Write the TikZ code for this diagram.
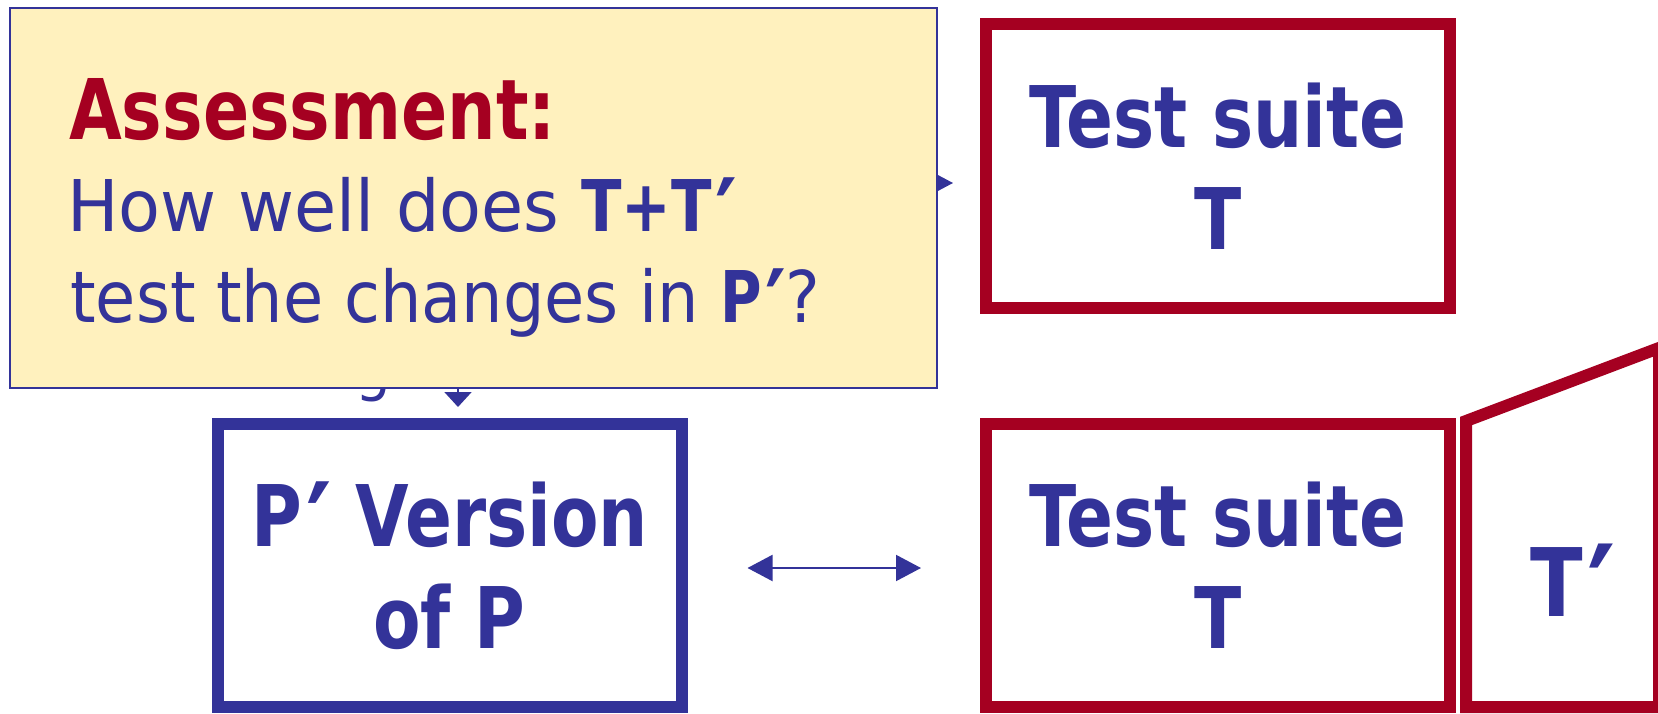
\documentclass[tikz,border=0pt]{standalone}
\usepackage{fontspec}
\setmainfont{DejaVu Sans}[FakeStretch=0.94, BoldFont={DejaVu Sans Condensed Bold}, BoldFeatures={FakeStretch=0.905}]
\usetikzlibrary{arrows.meta}
\definecolor{dblue}{HTML}{333399}
\definecolor{dred}{HTML}{A50021}
\definecolor{lyel}{HTML}{FFF1BE}
\newcommand{\bigprime}{\kern0.05em\raisebox{-0.26em}{\scalebox{1.4}{′}}}
\tikzset{
  redbox/.style={draw=dred, line width=12pt, minimum width=464pt, minimum height=283pt,
    inner sep=0pt, align=center, text=dblue, font=\fontsize{85pt}{102pt}\selectfont\bfseries},
  bluebox/.style={redbox, draw=dblue},
  conn/.style={draw=dblue, line width=2pt},
  bighead/.style={-{Triangle[length=25pt,width=26pt]}},
  smallhead/.style={-{Triangle[length=15pt,width=27pt]}},
  dbl/.style={conn, {Triangle[length=25pt,width=26pt]}-{Triangle[length=25pt,width=26pt]}},
  yelbox/.style={draw=dblue, fill=lyel, line width=2pt, minimum width=927pt, minimum height=380pt, inner sep=0pt},
  qtext/.style={anchor=base west, inner sep=0pt, text=dblue, font=\fontsize{71.3pt}{91pt}\selectfont},
  qhead/.style={anchor=base west, inner sep=0pt, text=dred, font=\fontsize{83.7pt}{100pt}\selectfont\bfseries},
  newsuite/.style={draw=dred, line width=12pt, miter limit=10},
}
\begin{document}
\begin{tikzpicture}[x=1pt,y=-1pt]
\useasboundingbox (0,0) rectangle (1658,714);
\fill[white] (0,0) rectangle (1658,714);
% boxes
\node[redbox] (ts1) at (1218,166) {Test suite\\T};
\node[redbox] (ts2) at (1218,565.5) {Test suite\\T};
\node[bluebox] (pv) at (449.5,565.5) {P\bigprime\ Version\\of P};
% new tests T'
\draw[newsuite] (1466,707) -- (1466,421) -- (1659,348) -- (1659,707) -- cycle;
\node[anchor=base west, inner sep=0pt, text=dblue, font=\fontsize{94.6pt}{110pt}\selectfont\bfseries] (tp) at (1530,616) {T\bigprime};
% connectors partly hidden by the callout
\coordinate (hidA) at (880,183);
\coordinate (hidB) at (458,330);
\draw[conn, bighead, shorten >=27pt] (hidA) -- (hidA -| ts1.west);
\draw[conn, smallhead, shorten >=11pt] (hidB) -- (hidB |- pv.north);
\node[anchor=base west, inner sep=0pt, text=dblue, font=\fontsize{60pt}{70pt}\selectfont] (hg) at (355,389) {g};
% callout
\node[yelbox] (ybox) at (473.5,198) {};
\node[qhead] (q1) at (69,140) {Assessment:};
\node[qtext] (q2) at (67,232) {\scalebox{1.022}[1]{How well does \textbf{T+T\bigprime}}};
\node[qtext] (q3) at (70,323) {\scalebox{0.975}[1]{test the changes in \textbf{P\bigprime}?}};
% double arrow
\draw[dbl, shorten <=60pt, shorten >=59pt] ([yshift=-2.5pt]pv.east) -- ([yshift=-2.5pt]ts2.west);
\end{tikzpicture}
\end{document}
